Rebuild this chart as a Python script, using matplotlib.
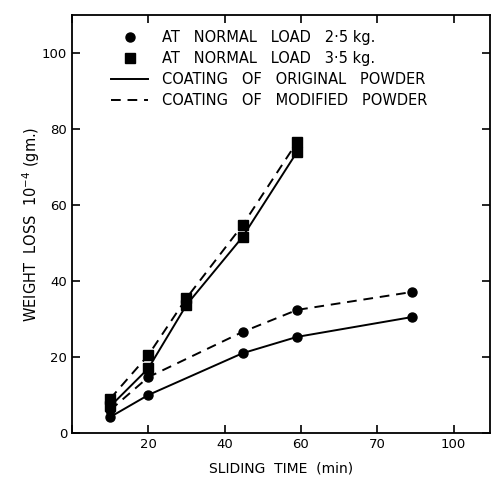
import matplotlib
matplotlib.use('Agg')
import matplotlib.pyplot as plt
from matplotlib.lines import Line2D

# sliding time (min) and weight loss (x 10^-4 gm)
t_sq = [10, 20, 30, 44.7, 59]
sq_original = [7, 17, 33.7, 51.6, 74]
sq_modified = [9, 20.5, 35.5, 54.7, 76.6]

t_ci = [10, 20, 44.7, 59, 89]
ci_original = [4.2, 10, 21, 25.3, 30.5]
ci_modified = [6, 14.7, 26.6, 32.4, 37.1]

x_ticks = [0, 20, 40, 60, 80, 100]
x_ticklabels = ["", "20", "40", "60", "70", "100"]
y_ticks = [0, 20, 40, 60, 80, 100]

fig = plt.figure(figsize=(4.91, 4.90), dpi=100)
ax = fig.add_axes([0.1466, 0.1163, 0.851, 0.853])

dash = (0, (5, 3.5))
ms = 6.5
ax.plot(t_sq, sq_original, color='black', lw=1.4, marker='s', ms=ms)
ax.plot(t_sq, sq_modified, color='black', lw=1.4, ls=dash, marker='s', ms=ms)
ax.plot(t_ci, ci_original, color='black', lw=1.4, marker='o', ms=ms)
ax.plot(t_ci, ci_modified, color='black', lw=1.4, ls=dash, marker='o', ms=ms)

ax.set_xlim(0, 109.5)
ax.set_ylim(0, 110)
ax.set_xticks(x_ticks)
ax.set_xticklabels(x_ticklabels)
ax.set_yticks(y_ticks)
ax.tick_params(direction='in', length=6, width=1.2, labelsize=9.5, top=True, right=True)
for s in ax.spines.values():
    s.set_linewidth(1.3)

ax.set_xlabel("SLIDING  TIME  (min)", fontsize=10, labelpad=8)
ax.set_ylabel("WEIGHT  LOSS  10$^{-4}$ (gm.)", fontsize=10.5, labelpad=0)

handles = [
    Line2D([], [], color='black', marker='o', ls='none', ms=ms),
    Line2D([], [], color='black', marker='s', ls='none', ms=ms),
    Line2D([], [], color='black', lw=1.4),
    Line2D([], [], color='black', lw=1.4, ls=dash),
]
labels = [
    "AT   NORMAL   LOAD   2·5 kg.",
    "AT   NORMAL   LOAD   3·5 kg.",
    "COATING   OF   ORIGINAL   POWDER",
    "COATING   OF   MODIFIED   POWDER",
]
ax.legend(handles, labels, loc='upper left', bbox_to_anchor=(0.063, 0.995),
          frameon=False, fontsize=10.5, handlelength=2.5, labelspacing=0.4,
          handletextpad=1.0)

fig.savefig("out.png", dpi=100)
